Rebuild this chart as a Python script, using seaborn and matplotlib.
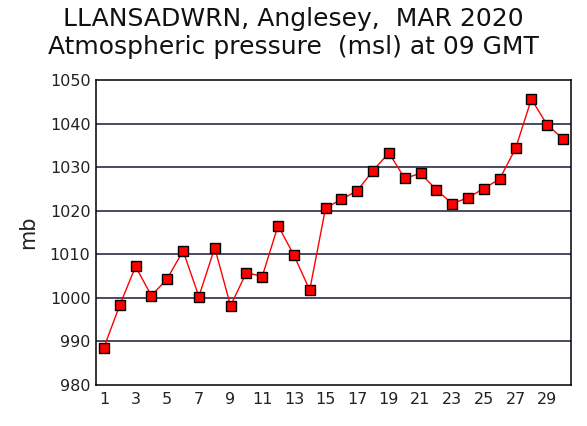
import numpy as np
import pandas as pd
import matplotlib
matplotlib.use("Agg")
import matplotlib.pyplot as plt
import seaborn as sns

# Daily pressure readings at 09 GMT, March 2020
days = list(range(1, 31))
pressure = [988.6, 998.3, 1007.2, 1000.5, 1004.4, 1010.8, 1000.3, 1011.5, 998.2, 1005.8,
            1004.9, 1016.6, 1009.8, 1001.8, 1020.6, 1022.6, 1024.6, 1029.2, 1033.3, 1027.4,
            1028.6, 1024.8, 1021.6, 1023.0, 1025.1, 1027.3, 1034.3, 1045.6, 1039.7, 1036.5]
y_ticks = [980, 990, 1000, 1010, 1020, 1030, 1040, 1050]
x_ticks = list(range(1, 30, 2))

df = pd.DataFrame({"day": days, "mb": pressure})

sns.set_style("white")
plt.rcParams["font.family"] = ["DejaVu Sans"]

fig = plt.figure(figsize=(5.87, 4.26), dpi=100)
ax = fig.add_axes([0.1635, 0.0962, 0.8092, 0.716])

for yv in y_ticks[1:-1]:
    ax.axhline(yv, color="#2b2b48", linewidth=1.2, zorder=1)

sns.lineplot(data=df, x="day", y="mb", ax=ax, color="red", linewidth=1,
             marker="s", markersize=7.5, markerfacecolor="red",
             markeredgecolor="black", markeredgewidth=1, zorder=3)

ax.set_xlim(0.5, 30.5)
ax.set_ylim(980, 1050)
ax.set_xticks(x_ticks)
ax.set_yticks(y_ticks)
ax.tick_params(axis="both", length=0, labelsize=11.5, colors="#222222")
ax.tick_params(axis="y", pad=4)
ax.tick_params(axis="x", pad=5)
ax.set_xlabel("")
ax.set_ylabel("mb", fontsize=15, labelpad=8, color="#222222")
for s in ax.spines.values():
    s.set_color("black")
    s.set_linewidth(1.1)

fig.text(0.5, 0.955, "LLANSADWRN, Anglesey,  MAR 2020", ha="center", va="center", fontsize=18, color="#111111")
fig.text(0.5, 0.89, "Atmospheric pressure  (msl) at 09 GMT", ha="center", va="center", fontsize=18, color="#111111")

fig.savefig("out.png", dpi=100)
